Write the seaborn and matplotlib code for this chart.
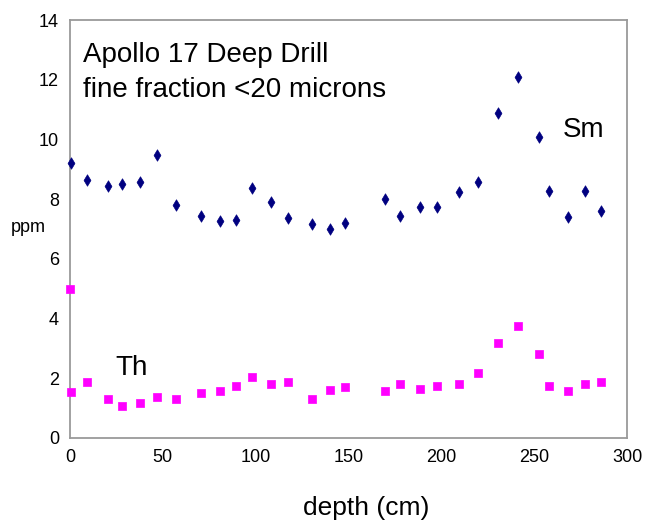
import matplotlib
matplotlib.use("Agg")
import matplotlib.pyplot as plt
import seaborn as sns
import pandas as pd

# depth (cm)
sm_depth = [0.7, 9.4, 20.3, 27.8, 37.8, 46.8, 57.2, 70.4, 80.9, 89.4, 97.8, 108.2,
            117.6, 130.4, 140.2, 147.9, 169.4, 177.8, 188.3, 197.5, 209.4, 219.8,
            230.7, 241.2, 252.8, 257.8, 268.3, 277.3, 286.0]
sm_ppm = [9.20, 8.64, 8.44, 8.50, 8.58, 9.47, 7.80, 7.43, 7.26, 7.31, 8.36, 7.90,
          7.37, 7.17, 6.99, 7.19, 7.99, 7.43, 7.75, 7.73, 8.25, 8.58,
          10.87, 12.09, 10.08, 8.28, 7.39, 8.28, 7.59]

th_depth = [0.0, 0.7, 9.4, 20.3, 27.8, 37.8, 46.8, 57.2, 70.4, 80.9, 89.4, 97.8, 108.2,
            117.6, 130.4, 140.2, 147.9, 169.4, 177.8, 188.3, 197.5, 209.4, 219.8,
            230.7, 241.2, 252.8, 257.8, 268.3, 277.3, 286.0]
th_ppm = [4.98, 1.53, 1.88, 1.30, 1.08, 1.17, 1.38, 1.30, 1.51, 1.58, 1.73, 2.03, 1.80,
          1.88, 1.30, 1.62, 1.70, 1.58, 1.80, 1.64, 1.73, 1.80, 2.17,
          3.17, 3.74, 2.80, 1.73, 1.58, 1.80, 1.88]

x_ticks = [0, 50, 100, 150, 200, 250, 300]
y_ticks = [0, 2, 4, 6, 8, 10, 12, 14]

sns.set_style("white")
plt.rcParams['font.family'] = ['Liberation Sans', 'DejaVu Sans']
plt.rcParams['text.color'] = 'black'
plt.rcParams['xtick.color'] = 'black'
plt.rcParams['ytick.color'] = 'black'

W, H = 645, 527
fig = plt.figure(figsize=(W / 100, H / 100), dpi=100)
ax = fig.add_axes([70 / W, 1 - 438 / H, (627 - 70) / W, (438 - 20) / H])

sm_df = pd.DataFrame({"depth": sm_depth, "ppm": sm_ppm})
th_df = pd.DataFrame({"depth": th_depth, "ppm": th_ppm})

sns.scatterplot(data=sm_df, x="depth", y="ppm", ax=ax, marker="d", s=34,
                color="#000080", edgecolor="#000080", linewidth=0.5, clip_on=False, zorder=3)
sns.scatterplot(data=th_df, x="depth", y="ppm", ax=ax, marker="s", s=26,
                color="#FF00FF", edgecolor="#FF00FF", linewidth=0.5, clip_on=False, zorder=3)

ax.set_xlim(0, 300)
ax.set_ylim(0, 14)
ax.set_xticks(x_ticks)
ax.set_yticks(y_ticks)
ax.tick_params(axis="both", length=0, labelsize=13, pad=8, labelcolor="black")
for s in ax.spines.values():
    s.set_color("#9a9a9a")
    s.set_linewidth(1.3)
ax.set_xlabel("")
ax.set_ylabel("")

fig.text(83 / W, 1 - 62 / H, "Apollo 17 Deep Drill", fontsize=20, va="baseline", ha="left", color="black")
fig.text(83 / W, 1 - 97 / H, "fine fraction <20 microns", fontsize=20, va="baseline", ha="left", color="black")
fig.text(563 / W, 1 - 137 / H, "Sm", fontsize=20, va="baseline", ha="left", color="black")
fig.text(115 / W, 1 - 375 / H, "Th", fontsize=20, va="baseline", ha="left", color="black")
fig.text(28 / W, 1 - 228 / H, "ppm", fontsize=13, va="center", ha="center", color="black")
fig.text(366 / W, 1 - 508 / H, "depth (cm)", fontsize=19, va="center", ha="center", color="black")

fig.savefig("out.png", dpi=100)
